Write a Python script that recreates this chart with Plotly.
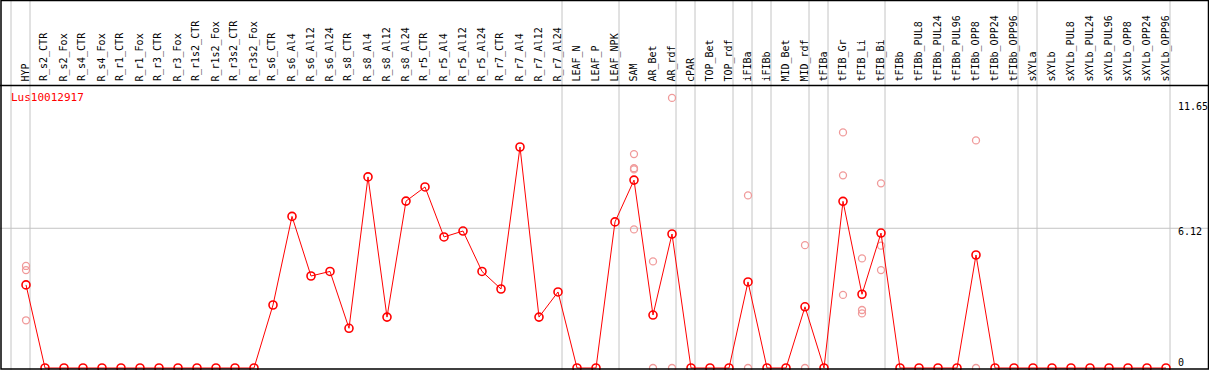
import plotly.graph_objects as go

categories = ["HYP", "R_s2_CTR", "R_s2_Fox", "R_s4_CTR", "R_s4_Fox", "R_r1_CTR", "R_r1_Fox",
              "R_r3_CTR", "R_r3_Fox", "R_r1s2_CTR", "R_r1s2_Fox", "R_r3s2_CTR", "R_r3s2_Fox",
              "R_s6_CTR", "R_s6_Al4", "R_s6_Al12", "R_s6_Al24", "R_s8_CTR", "R_s8_Al4",
              "R_s8_Al12", "R_s8_Al24", "R_r5_CTR", "R_r5_Al4", "R_r5_Al12", "R_r5_Al24",
              "R_r7_CTR", "R_r7_Al4", "R_r7_Al12", "R_r7_Al24", "LEAF_N", "LEAF_P", "LEAF_NPK",
              "SAM", "AR_Bet", "AR_rdf", "cPAR", "TOP_Bet", "TOP_rdf", "iFIBa", "iFIBb",
              "MID_Bet", "MID_rdf", "tFIBa", "tFIB_Gr", "tFIB_Li", "tFIB_Bi", "tFIBb",
              "tFIBb_PUL8", "tFIBb_PUL24", "tFIBb_PUL96", "tFIBb_OPP8", "tFIBb_OPP24",
              "tFIBb_OPP96", "sXYLa", "sXYLb", "sXYLb_PUL8", "sXYLb_PUL24", "sXYLb_PUL96",
              "sXYLb_OPP8", "sXYLb_OPP24", "sXYLb_OPP96"]

mean_values = [3.64, 0, 0, 0, 0, 0, 0, 0, 0, 0, 0, 0, 0,
               2.76, 6.64, 4.03, 4.23, 1.74, 8.37, 2.23, 7.31, 7.93, 5.74, 6.00, 4.23,
               3.46, 9.68, 2.23, 3.33, 0, 0, 6.40,
               8.23, 2.32, 5.87, 0, 0, 0, 3.77, 0,
               0, 2.68, 0, 7.30, 3.23, 5.91, 0,
               0, 0, 0, 4.95, 0, 0, 0, 0, 0, 0, 0, 0, 0, 0]

rep_categories = ["HYP", "HYP", "HYP",
                  "SAM", "SAM", "SAM", "SAM",
                  "AR_Bet", "AR_Bet", "AR_rdf", "AR_rdf",
                  "iFIBa", "iFIBa", "MID_rdf", "MID_rdf",
                  "tFIB_Gr", "tFIB_Gr", "tFIB_Gr",
                  "tFIB_Li", "tFIB_Li", "tFIB_Li",
                  "tFIB_Bi", "tFIB_Bi", "tFIB_Bi",
                  "tFIBb_OPP8", "tFIBb_OPP8"]
rep_values = [4.47, 4.29, 2.09,
              9.37, 8.75, 8.70, 6.07,
              4.67, 0, 11.83, 0,
              7.56, 0, 5.38, 0,
              10.32, 8.44, 3.20,
              4.80, 2.54, 2.39,
              8.09, 5.36, 4.29,
              9.97, 0]

separators_after = [-1, 0, 28, 31, 34, 35, 37, 38, 39, 41, 42, 45, 52, 53, 60]
axis_labels = ["11.65", "6.12", "0"]
gene_name = "Lus10012917"

W, H = 1209, 370
x0_px, dx_px = 26.0, 19.0
y0_px, dy_px = 368.0, 22.83

def px(x):
    return x / W

def py(y):
    return 1 - y / H

idx = {c: i for i, c in enumerate(categories)}
xs = list(range(len(categories)))
rep_x = [idx[c] for c in rep_categories]

fig = go.Figure()
fig.add_trace(go.Scatter(
    x=rep_x, y=rep_values, mode="markers",
    marker=dict(symbol="circle-open", size=7, color="#f09a9a", line=dict(width=1.3)),
    hoverinfo="skip", showlegend=False, cliponaxis=False))
fig.add_trace(go.Scatter(
    x=xs, y=mean_values, mode="lines+markers",
    line=dict(color="#ff0000", width=1),
    marker=dict(symbol="circle-open", size=8, color="#ff0000", line=dict(width=1.6)),
    text=categories, showlegend=False, cliponaxis=False))

shapes = []
grey = "#c4c4c4"
for s in separators_after:
    xp = x0_px + dx_px * s + 4
    shapes.append(dict(type="line", xref="paper", yref="paper", x0=px(xp), x1=px(xp),
                       y0=0, y1=1, line=dict(color=grey, width=1), layer="below"))
shapes.append(dict(type="line", xref="paper", yref="y", x0=0, x1=1, y0=6.12, y1=6.12,
                   line=dict(color=grey, width=1), layer="below"))
# frame
shapes.append(dict(type="line", xref="paper", yref="paper", x0=0, x1=1, y0=py(85.5), y1=py(85.5),
                   line=dict(color="black", width=1.5)))
shapes.append(dict(type="rect", xref="paper", yref="paper", x0=px(1), x1=px(1208.5),
                   y0=py(369), y1=py(0.5), line=dict(color="black", width=1.5)))

annotations = []
for i, c in enumerate(categories):
    annotations.append(dict(
        x=px(x0_px + dx_px * i - 1), y=py(83.5), xref="paper", yref="paper",
        text=c, textangle=-90, showarrow=False, xanchor="center", yanchor="bottom",
        font=dict(family="DejaVu Sans Mono", size=10, color="black")))
for lab, yc in zip(axis_labels, [107, 231.5, 362]):
    annotations.append(dict(x=px(1176), y=py(yc), xref="paper", yref="paper", text=lab,
                            showarrow=False, xanchor="left", yanchor="middle",
                            font=dict(family="DejaVu Sans Mono", size=10, color="black")))
annotations.append(dict(x=px(9), y=py(97), xref="paper", yref="paper", text=gene_name,
                        showarrow=False, xanchor="left", yanchor="middle",
                        font=dict(family="DejaVu Sans Mono", size=11, color="#ff0000")))

fig.update_layout(
    width=W, height=H, margin=dict(l=0, r=0, t=0, b=0),
    paper_bgcolor="white", plot_bgcolor="white",
    xaxis=dict(visible=False, range=[-x0_px / dx_px, (W - x0_px) / dx_px], fixedrange=True),
    yaxis=dict(visible=False, range=[-(H - y0_px) / dy_px, y0_px / dy_px], fixedrange=True),
    shapes=shapes, annotations=annotations, showlegend=False)

fig.write_html("out.html", config={"displayModeBar": False},
               post_script="document.body.style.margin='0px';document.body.style.overflow='hidden';")
